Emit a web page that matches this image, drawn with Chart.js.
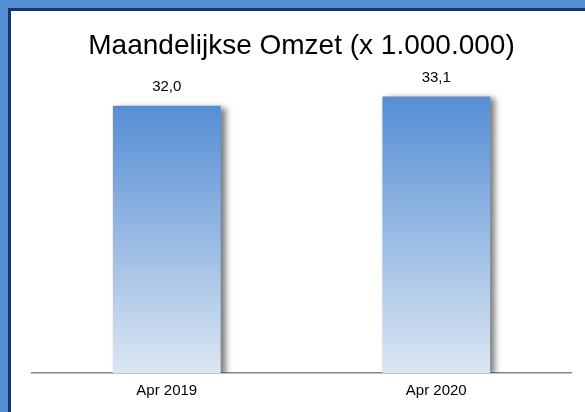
<!DOCTYPE html>
<html>
<head>
<meta charset="utf-8">
<script src="https://cdn.jsdelivr.net/npm/chart.js@4"></script>
<style>
  html, body { margin: 0; padding: 0; background: #fff; }
  #frame { width: 577px; height: 404px; border-top: 8px solid #558ed5; border-left: 8px solid #558ed5; }
  #inner { width: 574px; height: 401px; border-top: 3px solid #17375e; border-left: 3px solid #17375e; background: #fff; }
  #wrap { position: relative; width: 574px; height: 401px; }
</style>
</head>
<body>
<div id="frame"><div id="inner"><div id="wrap"><canvas id="omzetChart"></canvas></div></div></div>
<script>
"use strict";

var labels = ['Apr 2019', 'Apr 2020'];
var omzet = [32.0, 33.1];
var titel = 'Maandelijkse Omzet (x 1.000.000)';

var fontFam = "'Liberation Sans', Arial, sans-serif";

// schaduw achter de staven
var barShadow = {
    id: 'barShadow',
    beforeDatasetsDraw: function (chart) {
        var c = chart.ctx;
        c.save();
        c.shadowColor = 'rgba(0,0,0,0.5)';
        c.shadowBlur = 6;
        c.shadowOffsetX = 5;
        c.shadowOffsetY = 2;
    },
    afterDatasetsDraw: function (chart) {
        chart.ctx.restore();
    }
};

// waarden boven de staven
var valueLabels = {
    id: 'valueLabels',
    afterDraw: function (chart) {
        var c = chart.ctx;
        var meta = chart.getDatasetMeta(0);
        c.save();
        c.font = '15px ' + fontFam;
        c.fillStyle = '#000';
        c.textAlign = 'center';
        c.textBaseline = 'middle';
        meta.data.forEach(function (bar, i) {
            var txt = omzet[i].toFixed(1).replace('.', ',');
            c.fillText(txt, bar.x, bar.y - 19);
        });
        c.restore();
    }
};

var ctx = document.getElementById('omzetChart').getContext('2d');
new Chart(ctx, {
    type: 'bar',
    data: {
        labels: labels,
        datasets: [{
            data: omzet,
            backgroundColor: function (context) {
                var chart = context.chart;
                if (!chart.chartArea || !chart.scales.y) return '#558ed5';
                var y = chart.scales.y;
                var top = y.getPixelForValue(context.parsed ? context.parsed.y : omzet[context.dataIndex]);
                var bottom = y.getPixelForValue(0);
                var g = chart.ctx.createLinearGradient(0, top, 0, bottom);
                g.addColorStop(0, '#558ed5');
                g.addColorStop(1, '#dce6f2');
                return g;
            },
            borderWidth: 0,
            barPercentage: 0.4,
            categoryPercentage: 1.0
        }]
    },
    options: {
        responsive: true,
        maintainAspectRatio: false,
        animation: false,
        layout: { padding: { left: 21, right: 14, top: 0, bottom: 3 } },
        plugins: {
            legend: { display: false },
            tooltip: { enabled: false },
            title: {
                display: true,
                text: titel,
                color: '#000',
                font: { family: fontFam, size: 28, weight: 'normal' },
                padding: { top: 18, bottom: 18 }
            }
        },
        scales: {
            x: {
                grid: { display: false, drawTicks: false },
                border: { display: true, color: '#868686', width: 1.5 },
                ticks: { color: '#000', font: { family: fontFam, size: 15 }, padding: 9 }
            },
            y: {
                display: false,
                min: 0,
                max: 35
            }
        }
    },
    plugins: [barShadow, valueLabels]
});
</script>
</body>
</html>
